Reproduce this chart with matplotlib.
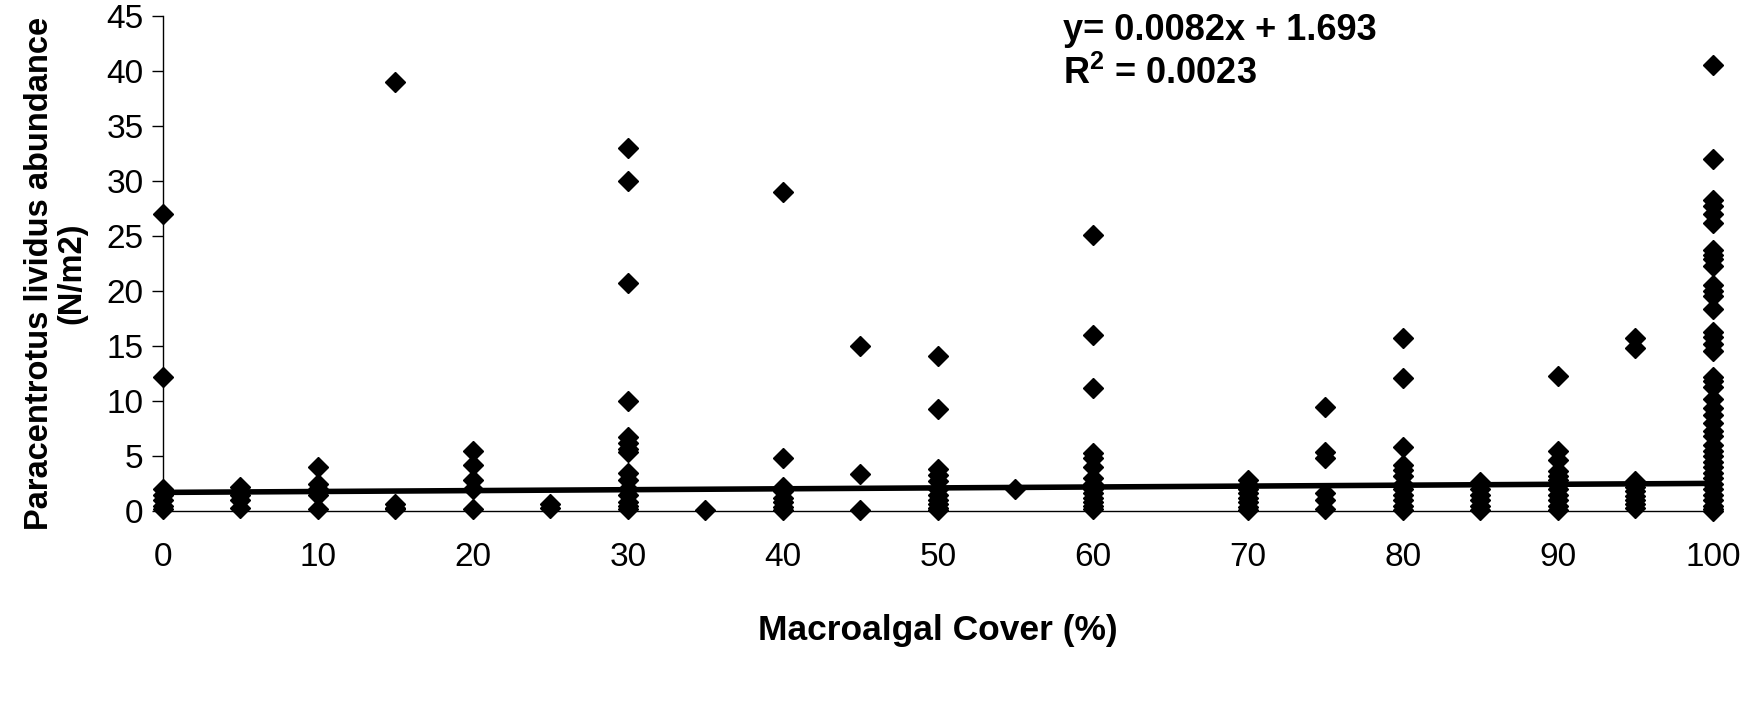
import matplotlib
matplotlib.use("Agg")
import matplotlib.pyplot as plt
import numpy as np

plt.rcParams['font.family'] = ['Liberation Sans', 'DejaVu Sans']
plt.rcParams['mathtext.fontset'] = 'custom'
plt.rcParams['mathtext.rm'] = 'Liberation Sans'
plt.rcParams['mathtext.bf'] = 'Liberation Sans:bold'

# Data: macroalgal cover (%) and sea urchin abundance (N/m2)
cover_levels = [0, 5, 10, 15, 20, 25, 30, 35, 40, 45, 50, 55, 60, 70, 75, 80, 85, 90, 95, 100]
abundance = {
    0: [27, 12.2, 2.0, 1.5, 1.0, 0.5, 0.2],
    5: [2.2, 1.5, 1.0, 0.3],
    10: [4.0, 2.5, 2.0, 1.5, 0.2],
    15: [39, 0.6, 0.3, 0.2],
    20: [5.5, 4.2, 2.8, 2.0, 0.2],
    25: [0.6, 0.3],
    30: [33, 30, 20.7, 10, 6.7, 6.2, 5.6, 5.4, 3.5, 2.8, 2.0, 1.5, 0.8, 0.5, 0.2],
    35: [0.1],
    40: [29, 4.8, 2.2, 1.8, 1.2, 0.8, 0.4, 0.1],
    45: [15, 3.4, 0.1],
    50: [14.1, 9.3, 3.8, 3.3, 2.7, 2.0, 1.5, 1.0, 0.6, 0.3, 0.1],
    55: [2.0],
    60: [25.1, 16, 11.2, 5.3, 4.8, 4.0, 3.0, 2.5, 2.0, 1.6, 1.2, 0.8, 0.5, 0.2],
    70: [2.8, 2.4, 2.0, 1.6, 1.2, 0.8, 0.4, 0.1],
    75: [9.5, 5.4, 4.8, 1.6, 1.0, 0.2],
    80: [15.7, 12.1, 5.8, 4.2, 3.7, 3.2, 2.5, 2.0, 1.5, 1.0, 0.5, 0.1],
    85: [2.6, 2.0, 1.5, 1.0, 0.5, 0.1],
    90: [12.3, 5.5, 4.6, 3.6, 3.2, 2.8, 2.4, 2.0, 1.5, 1.0, 0.5, 0.1],
    95: [15.7, 14.8, 2.7, 2.2, 1.8, 1.4, 1.0, 0.6, 0.3],
    100: [40.5, 32, 28.3, 27.7, 27, 26.2, 23.7, 23.3, 22.9, 22.3, 20.5, 20, 19.5,
          18.4, 16.3, 15.8, 15.2, 14.5, 12.2, 11.8, 11.3, 10.2, 9.4, 8.7, 8.0, 7.3,
          6.8, 6.0, 5.5, 5.0, 4.5, 4.0, 3.5, 3.0, 2.5, 2.0, 1.5, 1.0, 0.5, 0.2, 0.0],
}
trend_slope = 0.0082
trend_intercept = 1.693
x_ticks = list(range(0, 101, 10))
y_ticks = list(range(0, 46, 5))

xs = []
ys = []
for c in cover_levels:
    for v in abundance[c]:
        xs.append(c)
        ys.append(v)

fig = plt.figure(figsize=(17.5, 7.26), dpi=100)
ax = fig.add_axes([0.0931, 0.2961, 0.8857, 0.682])

ax.plot(xs, ys, linestyle='none', marker='D', markersize=10.5, color='black',
        clip_on=False, zorder=3)
tx = np.array([0, 100])
ax.plot(tx, trend_slope * tx + trend_intercept, color='black', linewidth=4,
        zorder=4)

ax.set_xlim(0, 100)
ax.set_ylim(0, 45)
ax.set_xticks(x_ticks)
ax.set_yticks(y_ticks)
ax.tick_params(axis='x', length=0, pad=22, labelsize=24)
ax.tick_params(axis='y', direction='out', length=8, width=1, pad=6, labelsize=24)
for s in ['top', 'right']:
    ax.spines[s].set_visible(False)
ax.spines['left'].set_linewidth(1)
ax.spines['bottom'].set_linewidth(1)

ax.set_xlabel('Macroalgal Cover (%)', fontsize=25.5, fontweight='bold', labelpad=30)
ax.set_ylabel('Paracentrotus lividus abundance\n(N/m2)', fontsize=23.5,
              fontweight='bold', linespacing=1.05)
ax.yaxis.set_label_coords(-0.049, 0.48)

fig.text(1063 / 1750, 1 - 30 / 726, 'y= 0.0082x + 1.693', fontsize=26,
         fontweight='bold', ha='left', va='center')
fig.text(1063 / 1750, 1 - 74 / 726, r'R$^{\mathbf{2}}$ = 0.0023', fontsize=26,
         fontweight='bold', ha='left', va='center')

fig.savefig('out.png', dpi=100, facecolor='white')
